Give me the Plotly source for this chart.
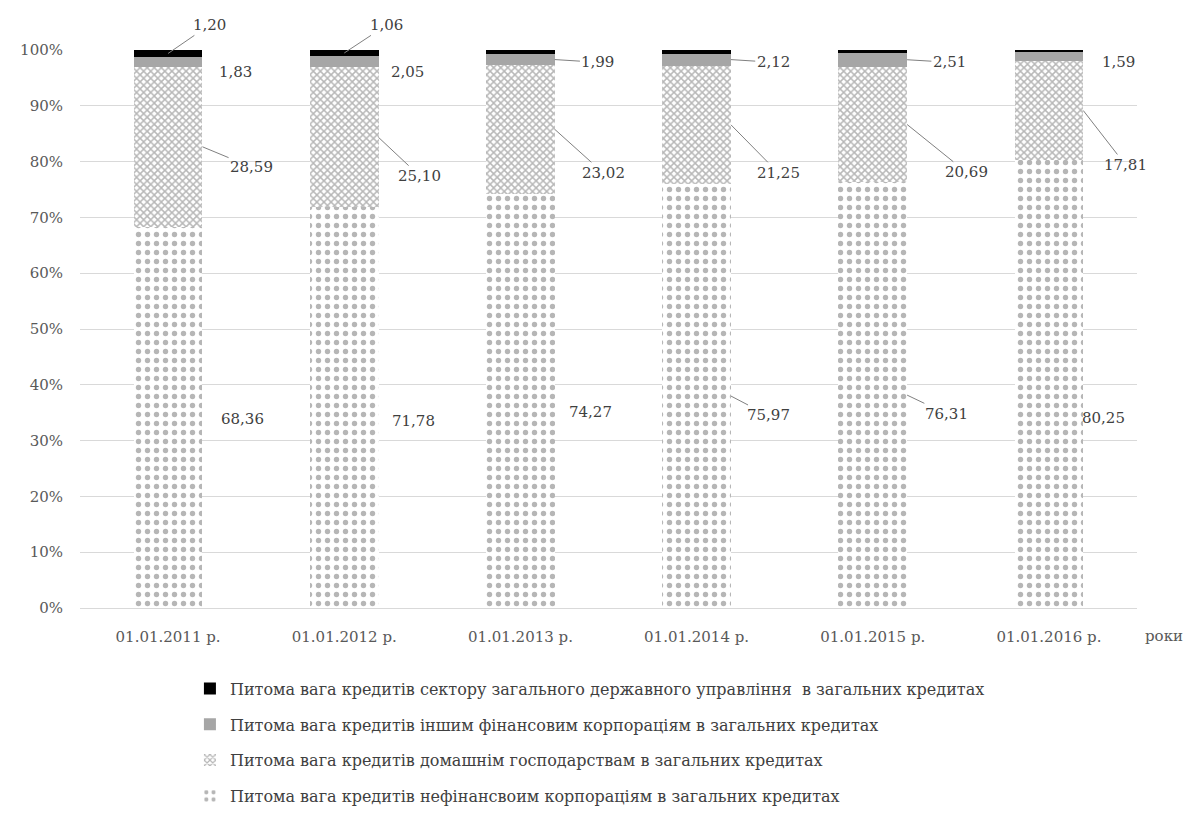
import plotly.graph_objects as go

# Loan structure by institutional sector, % of total loans
dates = ["01.01.2011 р.", "01.01.2012 р.", "01.01.2013 р.",
         "01.01.2014 р.", "01.01.2015 р.", "01.01.2016 р."]
nonfin_corp = [68.36, 71.78, 74.27, 75.97, 76.31, 80.25]
households = [28.59, 25.10, 23.02, 21.25, 20.69, 17.81]
other_fin_corp = [1.83, 2.05, 1.99, 2.12, 2.51, 1.59]
general_gov = [1.20, 1.06, 0.71, 0.65, 0.48, 0.34]

names = [
    "Питома вага кредитів нефінансвоим корпораціям в загальних кредитах",
    "Питома вага кредитів домашнім господарствам в загальних кредитах",
    "Питома вага кредитів іншим фінансовим корпораціям в загальних кредитах",
    "Питома вага кредитів сектору загального державного управління  в загальних кредитах",
]
y_ticks = [0, 10, 20, 30, 40, 50, 60, 70, 80, 90, 100]

FONT = "DejaVu Serif"
TEXT = "#404040"
LEAD = "#808080"
BAR_W = 0.39
x = list(range(len(dates)))

fig = go.Figure()
styles = [
    dict(color="white", pattern=dict(shape=".", fgcolor="#6e6e6e", bgcolor="white", size=9, solidity=0.28)),
    dict(color="white", pattern=dict(shape="x", fgcolor="#707070", bgcolor="white", size=5, solidity=0.5)),
    dict(color="#a6a6a6"),
    dict(color="#000000"),
]
series = [nonfin_corp, households, other_fin_corp, general_gov]
for i, (vals, name, st) in enumerate(zip(series, names, styles)):
    fig.add_trace(go.Bar(
        x=x, y=vals, name=name, width=BAR_W, marker=dict(line=dict(width=0), **st),
        legendgroup=f"g{i}", legendrank=len(series) - i, hoverinfo="skip",
    ))


def fmt(v):
    return f"{v:.2f}".replace(".", ",")


def label(xi, yi, v, tx, ty, lead):
    """Value label at text position (tx, ty) in data units; optional leader line to (xi, yi)."""
    if lead:
        fig.add_annotation(x=xi, y=yi, ax=tx, ay=ty, axref="x", ayref="y",
                           text=fmt(v), showarrow=True, arrowhead=0, arrowwidth=1,
                           arrowcolor=LEAD, font=dict(family=FONT, size=15, color=TEXT))
    else:
        fig.add_annotation(x=tx, y=ty, text=fmt(v), showarrow=False,
                           font=dict(family=FONT, size=15, color=TEXT))


# text offsets (category units, % units) and leader flags for each series
gov_dx = [0.236, 0.242, 0.08, 0.08, 0.08, 0.08]
gov_y = [104.5, 104.5, 104.1, 104.1, 104.1, 104.1]
gov_lead = [True, True, False, False, False, False]
ofc_dx = [0.384, 0.361, 0.44, 0.435, 0.435, 0.395]
ofc_y = [96.1, 96.1, 97.8, 97.8, 97.8, 97.8]
ofc_lead = [False, False, True, True, True, False]
hh_dx = [0.474, 0.429, 0.469, 0.463, 0.531, 0.435]
hh_y = [79.0, 77.4, 78.0, 78.0, 78.1, 79.4]
nf_dx = [0.423, 0.395, 0.40, 0.406, 0.418, 0.31]
nf_y = [33.9, 33.6, 35.1, 34.5, 34.8, 34.1]
nf_lead = [False, False, False, True, True, False]

edge = BAR_W / 2
for i in x:
    b0 = nonfin_corp[i]
    b1 = b0 + households[i]
    b2 = b1 + other_fin_corp[i]
    b3 = b2 + general_gov[i]
    label(i + edge, b0 / 2, nonfin_corp[i], i + nf_dx[i], nf_y[i], nf_lead[i])
    label(i + edge, (b0 + b1) / 2, households[i], i + hh_dx[i], hh_y[i], True)
    label(i + edge, (b1 + b2) / 2, other_fin_corp[i], i + ofc_dx[i], ofc_y[i], ofc_lead[i])
    label(i, (b2 + b3) / 2, general_gov[i], i + gov_dx[i], gov_y[i], gov_lead[i])

fig.add_annotation(x=1.0, y=0, xref="paper", yref="paper", xanchor="left", yanchor="top",
                   xshift=6, yshift=-17, text="роки", showarrow=False,
                   font=dict(family=FONT, size=15, color="#595959"))

fig.update_layout(
    width=1195, height=821,
    barmode="stack",
    bargap=0.61,
    plot_bgcolor="white", paper_bgcolor="white",
    margin=dict(l=80, r=58, t=50, b=213, autoexpand=False),
    font=dict(family=FONT, size=15, color="#595959"),
    xaxis=dict(tickmode="array", tickvals=x, ticktext=dates, range=[-0.5, 5.5],
               showgrid=False, showline=False, zeroline=False, ticks="",
               ticklabelstandoff=18,
               tickfont=dict(family=FONT, size=15, color="#595959")),
    yaxis=dict(tickmode="array", tickvals=y_ticks, ticktext=[f"{v}%" for v in y_ticks],
               range=[0, 100], showgrid=True, gridcolor="#d9d9d9", gridwidth=1,
               zeroline=True, zerolinecolor="#d9d9d9", zerolinewidth=1, ticks="",
               ticklabelstandoff=16,
               tickfont=dict(family=FONT, size=15, color="#595959")),
    legend=dict(orientation="v", x=0.104, xanchor="left", y=-0.114, yanchor="top",
                traceorder="grouped", tracegroupgap=12,
                font=dict(family=FONT, size=16, color=TEXT),
                itemwidth=30, bgcolor="rgba(0,0,0,0)"),
)

fig.write_html("out.html")
